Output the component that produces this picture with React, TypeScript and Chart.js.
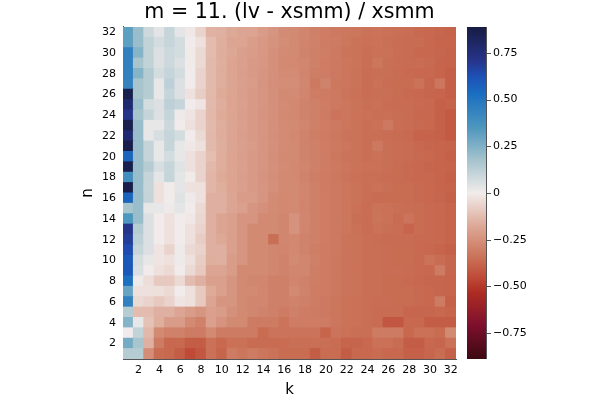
import React, { useEffect, useRef } from 'react';
import { Chart, registerables } from 'chart.js';

Chart.register(...registerables);

const titleText = 'm = 11. (lv - xsmm) / xsmm';
const kLabels = ['1','2','3','4','5','6','7','8','9','10','11','12','13','14','15','16','17','18','19','20','21','22','23','24','25','26','27','28','29','30','31','32'];
const nValues = [1,2,3,4,5,6,7,8,9,10,11,12,13,14,15,16,17,18,19,20,21,22,23,24,25,26,27,28,29,30,31,32];
const yTickValues = [2,4,6,8,10,12,14,16,18,20,22,24,26,28,30,32];
const cbTickValues = [-0.75,-0.5,-0.25,0,0.25,0.5,0.75];
const cbTickLabels = ['\u22120.75','\u22120.50','\u22120.25','0','0.25','0.50','0.75'];
const colorLimit = 0.888;

// values per row n (k = 1..32)
const row32 = [0.32,0.2,0.085,0.035,0.1,0.03,-0.01,-0.065,-0.15,-0.155,-0.175,-0.185,-0.19,-0.215,-0.235,-0.265,-0.27,-0.285,-0.3,-0.31,-0.32,-0.325,-0.33,-0.34,-0.335,-0.345,-0.35,-0.355,-0.365,-0.37,-0.375,-0.385];
const row31 = [0.32,0.2,0.11,0.07,0.1,0.07,0.0,-0.03,-0.125,-0.16,-0.185,-0.19,-0.21,-0.225,-0.245,-0.26,-0.27,-0.285,-0.295,-0.31,-0.315,-0.33,-0.34,-0.345,-0.34,-0.35,-0.355,-0.36,-0.36,-0.37,-0.38,-0.38];
const row30 = [0.45,0.24,0.11,0.05,0.085,0.07,-0.005,-0.05,-0.125,-0.165,-0.18,-0.2,-0.215,-0.23,-0.25,-0.265,-0.27,-0.29,-0.3,-0.305,-0.32,-0.335,-0.34,-0.35,-0.345,-0.345,-0.355,-0.36,-0.37,-0.37,-0.375,-0.385];
const row29 = [0.45,0.17,0.11,0.05,0.085,0.05,-0.005,-0.05,-0.13,-0.16,-0.19,-0.2,-0.22,-0.23,-0.25,-0.27,-0.275,-0.28,-0.3,-0.31,-0.32,-0.33,-0.335,-0.35,-0.33,-0.35,-0.355,-0.36,-0.36,-0.365,-0.38,-0.385];
const row28 = [0.45,0.24,0.14,0.07,0.1,0.07,0.0,-0.065,-0.13,-0.165,-0.19,-0.205,-0.22,-0.235,-0.25,-0.265,-0.265,-0.285,-0.305,-0.31,-0.32,-0.33,-0.34,-0.355,-0.35,-0.35,-0.36,-0.365,-0.37,-0.37,-0.38,-0.395];
const row27 = [0.44,0.17,0.14,0.02,0.12,0.05,0.0,-0.065,-0.13,-0.165,-0.185,-0.2,-0.215,-0.235,-0.255,-0.26,-0.26,-0.28,-0.32,-0.29,-0.325,-0.33,-0.34,-0.355,-0.345,-0.355,-0.36,-0.36,-0.34,-0.375,-0.33,-0.395];
const row26 = [0.86,0.17,0.14,0.02,0.1,0.05,-0.03,-0.08,-0.135,-0.17,-0.19,-0.205,-0.22,-0.235,-0.25,-0.27,-0.265,-0.285,-0.31,-0.315,-0.32,-0.335,-0.345,-0.355,-0.35,-0.35,-0.36,-0.365,-0.37,-0.375,-0.38,-0.395];
const row25 = [0.78,0.2,0.07,0.05,0.12,0.1,0.0,-0.02,-0.13,-0.165,-0.19,-0.2,-0.22,-0.235,-0.25,-0.265,-0.275,-0.29,-0.3,-0.31,-0.32,-0.33,-0.34,-0.35,-0.345,-0.355,-0.36,-0.36,-0.365,-0.37,-0.39,-0.385];
const row24 = [0.71,0.17,0.105,0.05,0.1,0.01,-0.02,-0.065,-0.135,-0.17,-0.19,-0.205,-0.22,-0.24,-0.25,-0.27,-0.275,-0.29,-0.3,-0.315,-0.335,-0.33,-0.34,-0.345,-0.35,-0.35,-0.355,-0.36,-0.37,-0.37,-0.39,-0.41];
const row23 = [0.86,0.2,0.02,0.02,0.085,0.0,-0.03,-0.065,-0.13,-0.165,-0.185,-0.2,-0.22,-0.235,-0.25,-0.265,-0.27,-0.285,-0.3,-0.31,-0.32,-0.33,-0.34,-0.35,-0.345,-0.32,-0.355,-0.36,-0.365,-0.37,-0.39,-0.41];
const row22 = [0.78,0.2,0.02,0.06,0.1,0.07,0.0,-0.05,-0.135,-0.165,-0.19,-0.205,-0.22,-0.235,-0.255,-0.265,-0.275,-0.29,-0.305,-0.315,-0.325,-0.335,-0.34,-0.35,-0.35,-0.355,-0.36,-0.365,-0.385,-0.385,-0.39,-0.41];
const row21 = [0.87,0.2,0.105,0.02,0.1,0.02,-0.01,-0.03,-0.13,-0.16,-0.185,-0.2,-0.215,-0.235,-0.25,-0.265,-0.27,-0.29,-0.3,-0.31,-0.32,-0.33,-0.34,-0.35,-0.32,-0.35,-0.355,-0.36,-0.37,-0.375,-0.38,-0.385];
const row20 = [0.56,0.2,0.105,0.02,0.07,0.02,-0.03,-0.065,-0.12,-0.165,-0.19,-0.205,-0.22,-0.235,-0.255,-0.27,-0.27,-0.29,-0.3,-0.31,-0.325,-0.335,-0.34,-0.35,-0.345,-0.35,-0.355,-0.36,-0.365,-0.37,-0.38,-0.39];
const row19 = [0.86,0.2,0.14,0.06,0.1,0.04,-0.03,-0.065,-0.135,-0.165,-0.19,-0.2,-0.22,-0.235,-0.25,-0.265,-0.275,-0.285,-0.3,-0.31,-0.32,-0.33,-0.34,-0.345,-0.345,-0.35,-0.36,-0.365,-0.37,-0.375,-0.38,-0.385];
const row18 = [0.39,0.2,0.105,0.03,0.1,0.03,-0.005,-0.065,-0.14,-0.17,-0.19,-0.205,-0.22,-0.24,-0.255,-0.27,-0.275,-0.29,-0.305,-0.315,-0.325,-0.335,-0.345,-0.35,-0.35,-0.355,-0.36,-0.365,-0.37,-0.37,-0.38,-0.39];
const row17 = [0.87,0.2,0.1,-0.03,0.0,0.03,-0.03,-0.03,-0.14,-0.16,-0.19,-0.2,-0.22,-0.235,-0.25,-0.27,-0.27,-0.285,-0.3,-0.315,-0.32,-0.33,-0.34,-0.35,-0.345,-0.35,-0.36,-0.36,-0.365,-0.37,-0.38,-0.385];
const row16 = [0.56,0.2,0.105,-0.03,0.0,0.04,0.01,-0.03,-0.155,-0.155,-0.185,-0.215,-0.215,-0.235,-0.265,-0.275,-0.27,-0.285,-0.3,-0.31,-0.32,-0.33,-0.34,-0.35,-0.36,-0.36,-0.36,-0.36,-0.365,-0.37,-0.375,-0.39];
const row15 = [0.17,0.2,0.02,0.02,0.01,0.03,0.0,-0.05,-0.155,-0.155,-0.185,-0.2,-0.235,-0.25,-0.265,-0.275,-0.27,-0.285,-0.3,-0.31,-0.32,-0.33,-0.345,-0.355,-0.34,-0.345,-0.35,-0.355,-0.36,-0.365,-0.37,-0.38];
const row14 = [0.35,0.2,0.05,0.0,-0.03,0.0,-0.01,-0.055,-0.155,-0.185,-0.2,-0.235,-0.235,-0.27,-0.27,-0.28,-0.245,-0.28,-0.3,-0.31,-0.32,-0.33,-0.35,-0.355,-0.335,-0.345,-0.36,-0.335,-0.36,-0.365,-0.37,-0.38];
const row13 = [0.71,0.14,0.05,0.0,-0.03,0.0,-0.03,-0.065,-0.155,-0.185,-0.2,-0.235,-0.27,-0.27,-0.27,-0.28,-0.245,-0.285,-0.3,-0.31,-0.32,-0.33,-0.345,-0.355,-0.345,-0.35,-0.355,-0.38,-0.36,-0.365,-0.37,-0.38];
const row12 = [0.68,0.12,0.05,0.0,-0.03,0.0,-0.03,-0.08,-0.155,-0.175,-0.2,-0.235,-0.27,-0.27,-0.35,-0.28,-0.275,-0.29,-0.3,-0.31,-0.32,-0.335,-0.34,-0.35,-0.355,-0.36,-0.36,-0.36,-0.365,-0.365,-0.37,-0.38];
const row11 = [0.64,0.1,0.05,-0.02,-0.065,0.01,-0.05,-0.065,-0.155,-0.155,-0.2,-0.235,-0.27,-0.27,-0.28,-0.285,-0.275,-0.29,-0.305,-0.315,-0.32,-0.335,-0.34,-0.35,-0.35,-0.355,-0.36,-0.36,-0.365,-0.37,-0.38,-0.39];
const row10 = [0.6,0.065,0.02,-0.02,-0.03,0.01,-0.03,-0.08,-0.16,-0.155,-0.215,-0.235,-0.27,-0.27,-0.28,-0.29,-0.27,-0.28,-0.3,-0.315,-0.325,-0.335,-0.34,-0.35,-0.35,-0.355,-0.36,-0.36,-0.365,-0.34,-0.36,-0.375];
const row9 = [0.6,0.055,0.0,-0.03,-0.05,0.0,-0.05,-0.09,-0.185,-0.185,-0.215,-0.27,-0.27,-0.27,-0.28,-0.29,-0.28,-0.28,-0.305,-0.315,-0.325,-0.335,-0.34,-0.35,-0.35,-0.355,-0.355,-0.36,-0.365,-0.37,-0.315,-0.375];
const row8 = [0.52,0.01,-0.04,-0.09,-0.09,-0.05,-0.125,-0.155,-0.2,-0.2,-0.235,-0.27,-0.28,-0.28,-0.3,-0.3,-0.285,-0.295,-0.305,-0.315,-0.325,-0.335,-0.34,-0.35,-0.35,-0.36,-0.36,-0.365,-0.37,-0.375,-0.375,-0.38];
const row7 = [0.3,-0.03,-0.03,-0.035,-0.05,0.0,-0.03,-0.09,-0.17,-0.2,-0.235,-0.27,-0.27,-0.28,-0.3,-0.3,-0.27,-0.29,-0.31,-0.315,-0.325,-0.335,-0.34,-0.35,-0.35,-0.36,-0.36,-0.36,-0.365,-0.37,-0.375,-0.38];
const row6 = [0.45,-0.05,-0.065,-0.09,-0.065,-0.02,-0.03,-0.09,-0.185,-0.235,-0.235,-0.27,-0.28,-0.28,-0.3,-0.3,-0.29,-0.3,-0.31,-0.32,-0.33,-0.34,-0.345,-0.35,-0.355,-0.355,-0.36,-0.36,-0.365,-0.37,-0.315,-0.39];
const row5 = [0.14,-0.125,-0.125,-0.155,-0.155,-0.185,-0.215,-0.235,-0.2,-0.215,-0.25,-0.27,-0.28,-0.29,-0.3,-0.315,-0.3,-0.31,-0.315,-0.32,-0.33,-0.34,-0.345,-0.35,-0.36,-0.36,-0.36,-0.375,-0.375,-0.375,-0.37,-0.38];
const row4 = [0.24,0.02,-0.11,-0.16,-0.215,-0.215,-0.27,-0.295,-0.2,-0.24,-0.27,-0.27,-0.315,-0.315,-0.315,-0.335,-0.31,-0.31,-0.31,-0.315,-0.33,-0.34,-0.345,-0.35,-0.36,-0.42,-0.42,-0.37,-0.37,-0.4,-0.4,-0.4];
const row3 = [0.0,0.11,-0.135,-0.27,-0.295,-0.295,-0.315,-0.315,-0.27,-0.315,-0.315,-0.315,-0.315,-0.36,-0.335,-0.335,-0.335,-0.335,-0.335,-0.38,-0.335,-0.345,-0.35,-0.35,-0.315,-0.315,-0.315,-0.37,-0.345,-0.345,-0.36,-0.27];
const row2 = [0.27,0.17,-0.155,-0.315,-0.37,-0.37,-0.4,-0.4,-0.345,-0.37,-0.345,-0.345,-0.36,-0.36,-0.36,-0.36,-0.35,-0.35,-0.35,-0.35,-0.36,-0.38,-0.38,-0.37,-0.345,-0.345,-0.36,-0.4,-0.4,-0.37,-0.375,-0.345];
const row1 = [0.14,0.14,-0.26,-0.36,-0.37,-0.4,-0.45,-0.42,-0.345,-0.38,-0.315,-0.33,-0.315,-0.33,-0.34,-0.36,-0.36,-0.36,-0.4,-0.36,-0.36,-0.4,-0.37,-0.37,-0.36,-0.37,-0.37,-0.39,-0.39,-0.375,-0.36,-0.39];

const rows = [row1,row2,row3,row4,row5,row6,row7,row8,row9,row10,row11,row12,row13,row14,row15,row16,row17,row18,row19,row20,row21,row22,row23,row24,row25,row26,row27,row28,row29,row30,row31,row32];

// colormap (value -> color), reversed "balance"
const cmapStops: [number, number[]][] = [
  [0.888, [24, 28, 67]],
  [0.708, [38, 52, 138]],
  [0.62, [29, 82, 184]],
  [0.531, [26, 110, 192]],
  [0.354, [76, 150, 190]],
  [0.177, [165, 195, 205]],
  [0, [241, 236, 235]],
  [-0.177, [221, 168, 150]],
  [-0.354, [201, 110, 84]],
  [-0.45, [191, 75, 55]],
  [-0.531, [174, 45, 35]],
  [-0.708, [125, 15, 45]],
  [-0.888, [60, 9, 18]],
];

function colorFor(v: number): string {
  if (v >= cmapStops[0][0]) return `rgb(${cmapStops[0][1].join(',')})`;
  for (let i = 0; i < cmapStops.length - 1; i++) {
    const [v0, c0] = cmapStops[i];
    const [v1, c1] = cmapStops[i + 1];
    if (v <= v0 && v >= v1) {
      const t = (v0 - v) / (v0 - v1);
      const c = c0.map((a, j) => Math.round(a + (c1[j] - a) * t));
      return `rgb(${c.join(',')})`;
    }
  }
  return `rgb(${cmapStops[cmapStops.length - 1][1].join(',')})`;
}

const colorbarPlugin = {
  id: 'colorbar',
  afterDraw(chart: any) {
    const cb = chart.scales.cb;
    if (!cb) return;
    const ctx = chart.ctx;
    const x0 = cb.left + 11;
    const x1 = cb.left + 30;
    const yTop = cb.getPixelForValue(colorLimit);
    const yBot = cb.getPixelForValue(-colorLimit);
    const g = ctx.createLinearGradient(0, yTop, 0, yBot);
    cmapStops.forEach(([v, c]) => {
      g.addColorStop(Math.min(1, Math.max(0, (colorLimit - v) / (2 * colorLimit))), `rgb(${c.join(',')})`);
    });
    ctx.save();
    ctx.fillStyle = g;
    ctx.fillRect(x0, yTop, x1 - x0, yBot - yTop);
    ctx.strokeStyle = '#555';
    ctx.lineWidth = 1;
    ctx.beginPath();
    ctx.moveTo(Math.round(x1) + 0.5, yTop);
    ctx.lineTo(Math.round(x1) + 0.5, yBot);
    cbTickValues.forEach((v) => {
      const y = Math.round(cb.getPixelForValue(v)) + 0.5;
      ctx.moveTo(Math.round(x1), y);
      ctx.lineTo(Math.round(x1) + 5, y);
    });
    ctx.stroke();
    ctx.restore();
  },
};

export default function App() {
  const ref = useRef<HTMLCanvasElement | null>(null);
  useEffect(() => {
    if (!ref.current) return;
    Chart.defaults.font.family = "'DejaVu Sans', sans-serif";
    Chart.defaults.color = '#000';
    const datasets = nValues.map((n, i) => ({
      label: `n=${n}`,
      data: kLabels.map(() => [n - 0.5, n + 0.5]),
      backgroundColor: rows[i].map(colorFor),
      borderWidth: 0,
      grouped: false,
      barPercentage: 1,
      categoryPercentage: 1,
      inflateAmount: 0.5,
      yAxisID: 'y',
      xAxisID: 'x',
    }));
    const chart = new Chart(ref.current, {
      type: 'bar',
      data: { labels: kLabels, datasets: datasets as any },
      plugins: [colorbarPlugin],
      options: {
        animation: false,
        responsive: false,
        events: [],
        layout: { padding: 0 },
        plugins: {
          legend: { display: false },
          tooltip: { enabled: false },
          title: {
            display: true,
            text: titleText,
            fullSize: false,
            color: '#000',
            font: { size: 20.6, weight: 'normal' as any, family: "'DejaVu Sans', sans-serif", lineHeight: 1.165 },
            padding: { top: 1, bottom: 2 },
          },
        },
        scales: {
          x: {
            type: 'category',
            grid: { display: false, drawTicks: false },
            border: { display: true, color: '#555', width: 1 },
            ticks: {
              autoSkip: false,
              maxRotation: 0,
              padding: 5,
              font: { size: 11 },
              color: '#000',
              callback: (_v: any, idx: number) => (idx % 2 === 1 ? kLabels[idx] : ''),
            },
            title: { display: true, text: 'k', font: { size: 15 }, color: '#000', padding: { top: 0, bottom: 1 } },
            afterFit: (s: any) => { s.height = 41; },
          },
          y: {
            type: 'linear',
            min: 0.5,
            max: 32.5,
            grid: { display: false, drawTicks: false },
            border: { display: true, color: '#555', width: 1 },
            afterBuildTicks: (s: any) => { s.ticks = yTickValues.map((v) => ({ value: v })); },
            ticks: { padding: 7, font: { size: 11 }, color: '#000' },
            title: { display: true, text: 'n', font: { size: 15 }, color: '#000', padding: { top: 79, bottom: 0 } },
            afterFit: (s: any) => { s.width = 123; },
          },
          cb: {
            type: 'linear',
            position: 'right',
            min: -colorLimit,
            max: colorLimit,
            grid: { display: false, drawTicks: true, tickLength: 35 },
            border: { display: false },
            afterBuildTicks: (s: any) => { s.ticks = cbTickValues.map((v) => ({ value: v })); },
            ticks: {
              padding: 2,
              font: { size: 11 },
              color: '#000',
              callback: (_v: any, idx: number) => cbTickLabels[idx],
            },
            afterFit: (s: any) => { s.width = 144; },
          },
        },
      } as any,
    });
    return () => chart.destroy();
  }, []);
  return (
    <div style={{ position: 'fixed', left: 0, top: 0, width: 600, height: 400, background: '#fff' }}>
      <canvas ref={ref} width={600} height={400} />
    </div>
  );
}
